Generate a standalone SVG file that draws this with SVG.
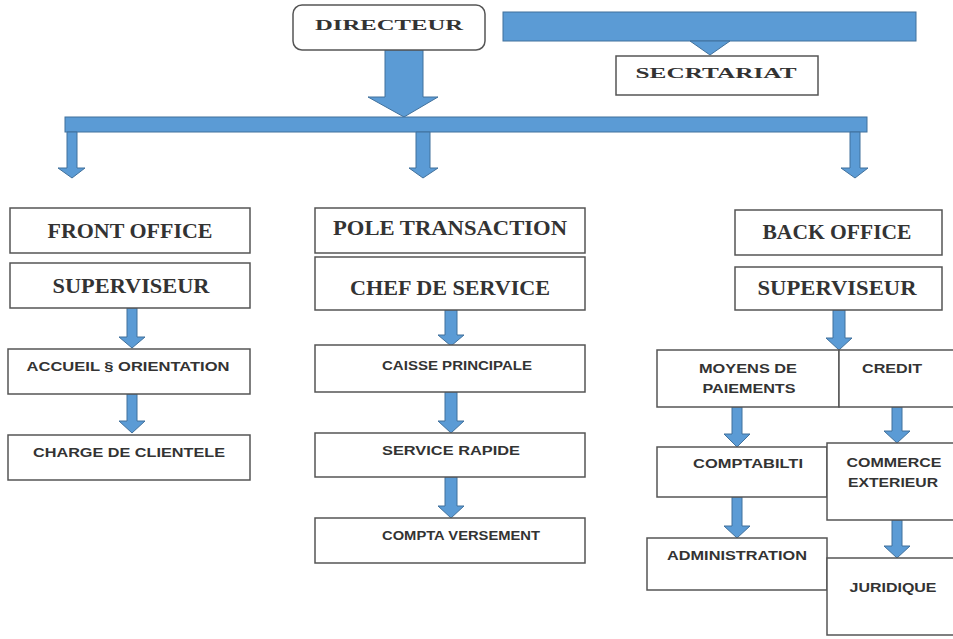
<svg xmlns="http://www.w3.org/2000/svg" width="953" height="639" viewBox="0 0 953 639">
<style>
.box{fill:#fff;stroke:#555;stroke-width:1.5}
.hd{font-family:"Liberation Serif","Times New Roman",serif;font-weight:bold;fill:#333;text-anchor:middle}
.sm{font-family:"Liberation Sans",Arial,sans-serif;font-weight:bold;fill:#333;font-size:12px;text-anchor:middle}
.ar{fill:#5b9bd5;stroke:#41719c;stroke-width:1}
</style>
<rect width="953" height="639" fill="#fff"/>
<g id="connectors">
<polygon class="ar" points="385,50 423,50 423,97 438,97 404,117 368,97 385,97"/>
<rect class="ar" x="65" y="117" width="802" height="15"/>
<polygon class="ar" points="67,132 77,132 77,168 85,168 72,178 58,168 67,168"/>
<polygon class="ar" points="416,132 430,132 430,168 438,168 423,178 409,168 416,168"/>
<polygon class="ar" points="850,132 860,132 860,168 868,168 855,178 841,168 850,168"/>
<rect class="ar" x="503" y="12" width="413" height="29"/>
<polygon class="ar" points="690,41 730,41 710,55"/>
<polygon class="ar" points="127,308 137,308 137,337 145,337 132,348 119,337 127,337"/>
<polygon class="ar" points="127,394 137,394 137,421 145,421 132,433 119,421 127,421"/>
<polygon class="ar" points="445,310 457,310 457,335 464,335 451,346 438,335 445,335"/>
<polygon class="ar" points="445,392 457,392 457,421 464,421 451,433 438,421 445,421"/>
<polygon class="ar" points="445,477 457,477 457,506 464,506 451,518 438,506 445,506"/>
<polygon class="ar" points="833,310 845,310 845,338 852,338 839,350 826,338 833,338"/>
<polygon class="ar" points="732,407 742,407 742,434 750,434 737,447 724,434 732,434"/>
<polygon class="ar" points="892,407 902,407 902,431 910,431 897,443 884,431 892,431"/>
<polygon class="ar" points="732,497 742,497 742,526 750,526 737,538 724,526 732,526"/>
<polygon class="ar" points="892,520 902,520 902,546 910,546 897,558 884,546 892,546"/>
</g>
<g id="directeur"><rect class="box" x="293" y="5" width="192" height="45" rx="9"/><text class="hd" x="389" y="30" font-size="15" textLength="148" lengthAdjust="spacingAndGlyphs">DIRECTEUR</text></g>
<g id="secretariat"><rect class="box" x="616" y="56" width="202" height="39"/><text class="hd" x="716" y="78" font-size="15" textLength="161" lengthAdjust="spacingAndGlyphs">SECRTARIAT</text></g>
<g id="front-office"><rect class="box" x="10" y="208" width="240" height="45"/><text class="hd" x="130" y="238" font-size="21" textLength="165" lengthAdjust="spacingAndGlyphs">FRONT OFFICE</text></g>
<g id="superviseur-front"><rect class="box" x="10" y="263" width="240" height="45"/><text class="hd" x="131" y="293" font-size="21" textLength="157" lengthAdjust="spacingAndGlyphs">SUPERVISEUR</text></g>
<g id="accueil"><rect class="box" x="8" y="349" width="242" height="45"/><text class="sm" x="128" y="371" textLength="203" lengthAdjust="spacingAndGlyphs">ACCUEIL § ORIENTATION</text></g>
<g id="charge-clientele"><rect class="box" x="8" y="435" width="242" height="45"/><text class="sm" x="129" y="457" textLength="192" lengthAdjust="spacingAndGlyphs">CHARGE DE CLIENTELE</text></g>
<g id="pole-transaction"><rect class="box" x="315" y="208" width="270" height="45"/><text class="hd" x="450" y="235" font-size="21" textLength="234" lengthAdjust="spacingAndGlyphs">POLE TRANSACTION</text></g>
<g id="chef-service"><rect class="box" x="315" y="257" width="270" height="53"/><text class="hd" x="450" y="295" font-size="21" textLength="200" lengthAdjust="spacingAndGlyphs">CHEF DE SERVICE</text></g>
<g id="caisse"><rect class="box" x="315" y="345" width="270" height="47"/><text class="sm" x="457" y="370" textLength="150" lengthAdjust="spacingAndGlyphs">CAISSE PRINCIPALE</text></g>
<g id="service-rapide"><rect class="box" x="315" y="433" width="270" height="44"/><text class="sm" x="451" y="455" textLength="138" lengthAdjust="spacingAndGlyphs">SERVICE RAPIDE</text></g>
<g id="compta-versement"><rect class="box" x="315" y="518" width="270" height="45"/><text class="sm" x="461" y="540" textLength="158" lengthAdjust="spacingAndGlyphs">COMPTA VERSEMENT</text></g>
<g id="back-office"><rect class="box" x="735" y="210" width="207" height="45"/><text class="hd" x="837" y="239" font-size="21" textLength="149" lengthAdjust="spacingAndGlyphs">BACK OFFICE</text></g>
<g id="superviseur-back"><rect class="box" x="735" y="267" width="207" height="43"/><text class="hd" x="837" y="295" font-size="21" textLength="159" lengthAdjust="spacingAndGlyphs">SUPERVISEUR</text></g>
<g id="moyens-paiements"><rect class="box" x="657" y="350" width="182" height="57"/><text class="sm" x="748" y="373" textLength="98" lengthAdjust="spacingAndGlyphs">MOYENS DE</text><text class="sm" x="749" y="393" textLength="93" lengthAdjust="spacingAndGlyphs">PAIEMENTS</text></g>
<g id="credit"><rect class="box" x="839" y="350" width="120" height="57"/><text class="sm" x="892" y="373" textLength="60" lengthAdjust="spacingAndGlyphs">CREDIT</text></g>
<g id="comptabilite"><rect class="box" x="657" y="447" width="170" height="50"/><text class="sm" x="748" y="468" textLength="110" lengthAdjust="spacingAndGlyphs">COMPTABILTI</text></g>
<g id="commerce-exterieur"><rect class="box" x="827" y="443" width="132" height="77"/><text class="sm" x="894" y="467" textLength="95" lengthAdjust="spacingAndGlyphs">COMMERCE</text><text class="sm" x="893" y="487" textLength="90" lengthAdjust="spacingAndGlyphs">EXTERIEUR</text></g>
<g id="administration"><rect class="box" x="647" y="538" width="180" height="52"/><text class="sm" x="737" y="560" textLength="140" lengthAdjust="spacingAndGlyphs">ADMINISTRATION</text></g>
<g id="juridique"><rect class="box" x="827" y="558" width="132" height="77"/><text class="sm" x="893" y="592" textLength="87" lengthAdjust="spacingAndGlyphs">JURIDIQUE</text></g>
</svg>
